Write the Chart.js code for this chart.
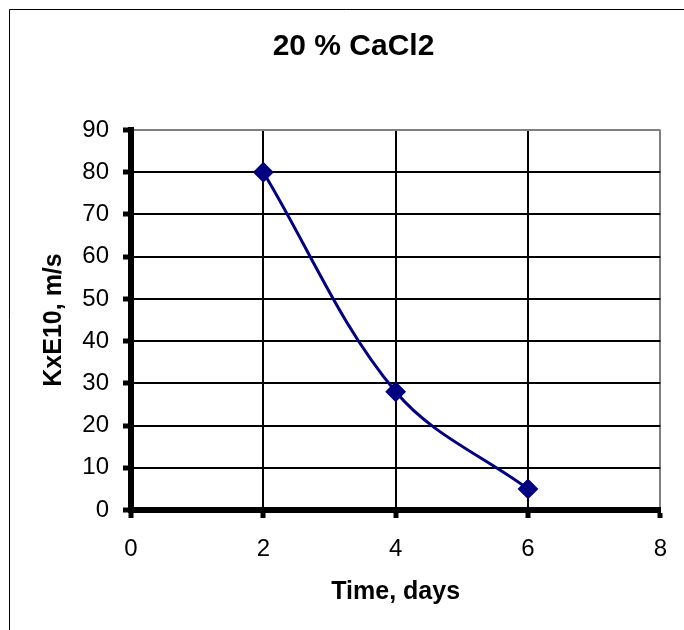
<!DOCTYPE html>
<html>
<head>
<meta charset="utf-8">
<script src="https://cdn.jsdelivr.net/npm/chart.js@4/dist/chart.umd.min.js"></script>
<style>
  html, body { margin: 0; padding: 0; background: #fff; }
  #wrap { width: 684px; height: 630px; position: relative; }
</style>
</head>
<body>
<div id="wrap"><canvas id="c" width="684" height="630"></canvas></div>
<script>
const chartTitle = '20 % CaCl2';
const xTitle = 'Time, days';
const yTitle = 'KxE10, m/s';
const timeDays = [2, 4, 6];
const kValues = [80, 28, 5];
const xMin = 0, xMax = 8, xStep = 2;
const yMin = 0, yMax = 90, yStep = 10;

const FONT = 'Liberation Sans, Arial, sans-serif';

const frame = {
  id: 'frame',
  beforeDraw(chart) {
    const ctx = chart.ctx;
    ctx.save();
    ctx.fillStyle = '#fff';
    ctx.fillRect(0, 0, chart.width, chart.height);
    ctx.strokeStyle = '#000';
    ctx.lineWidth = 1;
    ctx.beginPath();
    ctx.moveTo(9.5, chart.height);
    ctx.lineTo(9.5, 9.5);
    ctx.lineTo(chart.width, 9.5);
    ctx.stroke();
    ctx.restore();
  }
};

new Chart(document.getElementById('c'), {
  type: 'line',
  data: {
    datasets: [{
      data: timeDays.map((t, i) => ({ x: t, y: kValues[i] })),
      borderColor: '#000080',
      backgroundColor: '#000080',
      borderWidth: 3,
      tension: 0.35,
      pointStyle: 'rectRot',
      pointRadius: 9,
      pointBorderWidth: 2,
      pointBorderColor: '#000080',
      pointBackgroundColor: '#000080',
      fill: false
    }]
  },
  options: {
    responsive: false,
    animation: false,
    layout: { padding: { left: 44, right: 21, top: 0, bottom: 0 } },
    plugins: {
      legend: { display: false },
      tooltip: { enabled: false },
      title: {
        display: true,
        text: chartTitle,
        color: '#000',
        font: { family: FONT, size: 30, weight: 'bold' },
        padding: { top: 29, bottom: 65 }
      }
    },
    scales: {
      x: {
        type: 'linear',
        min: xMin, max: xMax,
        afterFit(scale) { scale.height = 120; },
        ticks: {
          stepSize: xStep,
          color: '#000',
          padding: 17,
          font: { family: FONT, size: 24 }
        },
        grid: {
          color: (c) => c.tick && c.tick.value === xMax ? '#808080' : '#000',
          lineWidth: 2,
          tickColor: '#000',
          tickWidth: 5,
          tickLength: 8
        },
        border: { display: true, color: '#000', width: 6 },
        title: {
          display: true,
          text: xTitle,
          color: '#000',
          font: { family: FONT, size: 25, weight: 'bold' },
          padding: { top: 0, bottom: 23 }
        }
      },
      y: {
        type: 'linear',
        min: yMin, max: yMax,
        afterFit(scale) { scale.width = 87; },
        ticks: {
          stepSize: yStep,
          color: '#000',
          padding: 14,
          font: { family: FONT, size: 24 }
        },
        grid: {
          color: (c) => c.tick && c.tick.value === yMax ? '#808080' : '#000',
          lineWidth: 2,
          tickColor: '#000',
          tickWidth: 5,
          tickLength: 8
        },
        border: { display: true, color: '#000', width: 6 },
        title: {
          display: true,
          text: yTitle,
          color: '#000',
          font: { family: FONT, size: 25, weight: 'bold' },
          padding: { top: -5, bottom: 0 }
        }
      }
    }
  },
  plugins: [frame]
});
</script>
</body>
</html>
